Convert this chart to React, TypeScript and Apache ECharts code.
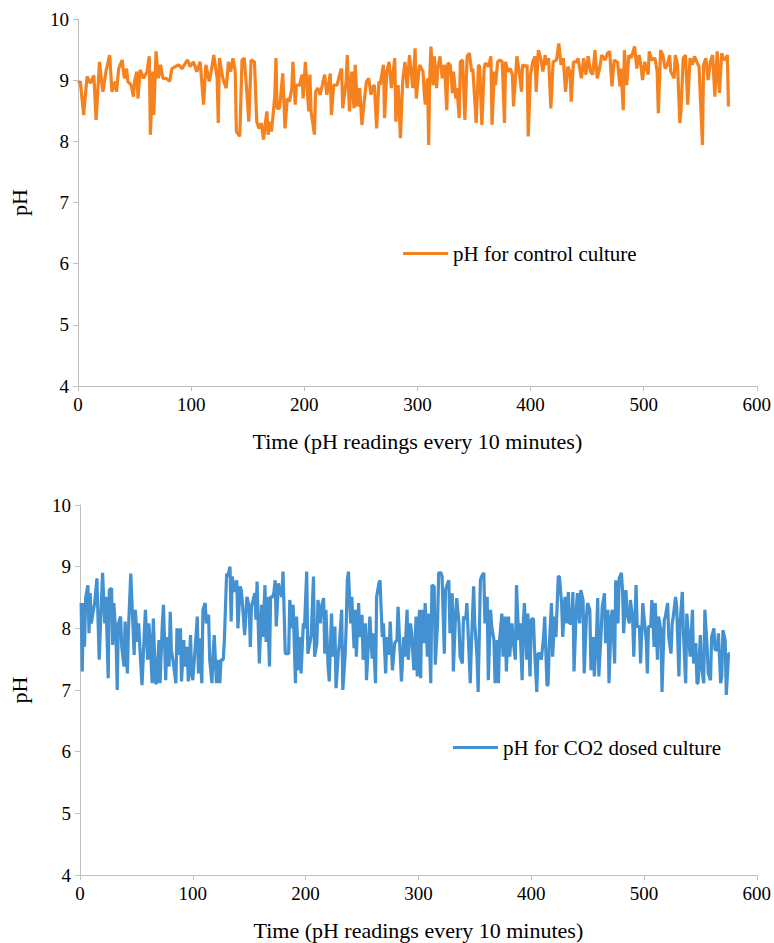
import React, { useEffect, useRef } from 'react';
import * as echarts from 'echarts';

// Control culture: time index (readings every 10 minutes) and pH
const controlTime = [0, 2, 5, 8, 11, 14, 16, 19, 21, 22, 25, 28, 30, 33, 34, 36, 39, 41, 43, 44, 47, 49, 50, 52, 53, 55, 58, 61, 63, 64, 66, 67, 69, 71, 73, 75, 78, 81, 83, 86, 89, 92, 95, 97, 99, 102, 105, 108, 111, 113, 116, 118, 120, 123, 124, 125, 128, 131, 133, 135, 137, 139, 140, 143, 145, 147, 149, 151, 153, 156, 158, 160, 162, 164, 166, 167, 168, 170, 171, 173, 174, 175, 176, 178, 179, 181, 183, 185, 187, 189, 190, 192, 193, 196, 198, 199, 201, 202, 204, 205, 206, 209, 210, 212, 214, 216, 218, 220, 223, 224, 226, 229, 232, 233, 234, 237, 238, 240, 242, 244, 245, 247, 249, 251, 253, 255, 257, 259, 260, 262, 264, 266, 267, 270, 271, 273, 275, 277, 280, 281, 283, 285, 287, 289, 291, 293, 296, 298, 299, 301, 302, 305, 306, 307, 309, 310, 311, 312, 314, 315, 317, 318, 320, 322, 324, 326, 327, 329, 331, 332, 334, 335, 337, 338, 340, 342, 344, 346, 348, 349, 352, 354, 355, 357, 359, 360, 363, 365, 366, 368, 369, 371, 373, 375, 377, 378, 380, 382, 384, 385, 388, 390, 392, 393, 396, 397, 398, 400, 402, 404, 405, 407, 409, 411, 413, 414, 416, 418, 420, 423, 425, 427, 429, 431, 433, 435, 436, 438, 441, 442, 445, 447, 449, 451, 453, 455, 457, 459, 461, 463, 466, 468, 470, 472, 474, 476, 477, 479, 480, 482, 483, 485, 487, 489, 492, 494, 496, 498, 499, 501, 504, 505, 507, 510, 512, 513, 515, 517, 519, 521, 523, 524, 527, 528, 530, 532, 533, 535, 537, 539, 541, 543, 545, 547, 549, 552, 553, 555, 557, 559, 561, 563, 565, 567, 569, 571, 573, 574, 575];
const controlPH = [8.95, 8.98, 8.43, 9.06, 8.95, 9.08, 8.35, 9.30, 8.95, 8.81, 9.17, 9.41, 8.81, 8.98, 8.81, 9.19, 9.33, 9.03, 9.19, 8.98, 8.92, 8.73, 8.98, 9.14, 8.70, 9.17, 9.03, 9.14, 9.39, 8.11, 9.14, 8.43, 9.47, 9.03, 9.25, 9.03, 9.03, 8.98, 9.19, 9.22, 9.25, 9.19, 9.28, 9.33, 9.22, 9.30, 9.14, 9.30, 8.60, 9.25, 8.98, 9.17, 9.41, 9.03, 8.30, 9.36, 9.03, 8.87, 9.30, 9.14, 9.36, 9.14, 8.16, 8.08, 9.33, 9.36, 8.87, 8.32, 9.33, 9.30, 8.32, 8.21, 8.30, 8.03, 8.35, 8.49, 8.11, 8.32, 8.16, 8.54, 8.76, 9.36, 8.54, 8.54, 8.70, 9.11, 8.21, 8.70, 8.65, 8.87, 9.30, 8.60, 8.92, 8.92, 9.09, 8.70, 9.30, 9.03, 8.49, 9.09, 8.49, 8.11, 8.81, 8.87, 8.76, 8.92, 9.09, 8.76, 9.11, 8.43, 8.92, 8.92, 9.14, 9.19, 8.54, 8.98, 9.41, 8.49, 9.14, 8.54, 9.25, 8.57, 8.87, 8.27, 8.65, 8.98, 9.03, 8.76, 8.87, 8.92, 8.21, 8.98, 8.92, 9.25, 8.38, 9.14, 9.30, 8.87, 9.36, 8.32, 8.92, 8.05, 8.98, 9.30, 8.87, 9.41, 8.87, 9.52, 8.70, 9.09, 9.25, 9.14, 8.81, 8.60, 9.03, 7.94, 9.09, 9.55, 8.92, 9.39, 8.87, 9.19, 9.39, 9.03, 9.25, 8.51, 9.28, 9.25, 8.79, 9.14, 8.70, 8.87, 8.38, 9.30, 9.33, 8.35, 9.39, 9.44, 9.14, 9.19, 8.30, 9.25, 9.22, 8.27, 9.19, 9.28, 9.22, 9.39, 8.27, 9.14, 8.92, 9.30, 9.33, 9.30, 8.30, 9.30, 9.14, 9.19, 9.09, 8.57, 9.39, 9.14, 8.81, 9.25, 9.22, 9.25, 8.08, 9.09, 9.30, 9.39, 8.81, 9.49, 9.36, 9.14, 9.41, 9.25, 9.36, 8.54, 9.30, 9.33, 9.60, 9.25, 9.36, 8.81, 9.22, 9.14, 8.65, 9.30, 9.30, 9.36, 9.03, 9.36, 9.09, 9.39, 9.14, 9.09, 9.49, 9.03, 9.19, 9.41, 9.33, 9.44, 9.47, 8.90, 9.33, 9.30, 9.30, 8.90, 9.19, 8.51, 9.49, 8.92, 9.41, 9.36, 9.55, 9.19, 9.41, 9.19, 9.00, 9.30, 9.09, 9.47, 9.33, 9.36, 9.14, 8.46, 9.49, 9.41, 9.19, 9.25, 9.41, 9.14, 9.03, 9.41, 9.25, 8.30, 8.49, 9.36, 9.41, 8.60, 9.36, 9.25, 9.39, 9.30, 9.22, 7.94, 9.25, 9.36, 9.00, 9.30, 9.41, 8.73, 9.47, 8.79, 9.44, 9.33, 9.36, 9.41, 8.57];

// CO2 dosed culture: time index and pH
const co2Time = [1, 2, 3, 4, 5, 7, 8, 9, 10, 12, 13, 15, 17, 18, 20, 22, 23, 25, 26, 28, 29, 30, 32, 33, 34, 36, 37, 39, 40, 42, 43, 45, 46, 48, 49, 51, 52, 54, 55, 57, 58, 60, 61, 62, 64, 65, 67, 68, 70, 71, 73, 74, 76, 77, 79, 80, 81, 83, 85, 86, 87, 89, 90, 92, 93, 95, 96, 98, 99, 100, 102, 104, 105, 106, 108, 109, 111, 112, 114, 115, 117, 118, 119, 121, 122, 124, 125, 127, 128, 130, 131, 133, 134, 135, 137, 139, 140, 142, 143, 144, 146, 148, 150, 151, 152, 155, 156, 157, 159, 161, 162, 164, 165, 166, 168, 169, 171, 172, 173, 174, 176, 177, 179, 180, 182, 183, 185, 186, 188, 189, 191, 192, 194, 195, 196, 198, 199, 201, 202, 204, 205, 207, 208, 210, 211, 213, 214, 216, 217, 218, 220, 221, 223, 224, 226, 227, 229, 230, 232, 233, 235, 236, 237, 238, 240, 241, 243, 244, 245, 247, 248, 250, 251, 253, 254, 256, 257, 259, 260, 262, 263, 265, 266, 268, 269, 271, 272, 274, 275, 277, 278, 279, 281, 282, 284, 285, 287, 288, 290, 291, 293, 294, 296, 298, 299, 301, 302, 303, 305, 306, 308, 309, 311, 312, 314, 315, 317, 318, 320, 321, 323, 324, 325, 327, 328, 330, 331, 333, 334, 336, 337, 339, 340, 342, 343, 345, 346, 347, 349, 350, 352, 353, 355, 356, 358, 359, 361, 362, 364, 365, 367, 368, 370, 371, 372, 374, 375, 377, 378, 380, 381, 383, 384, 386, 387, 389, 390, 392, 393, 394, 396, 397, 399, 400, 402, 403, 405, 406, 408, 409, 411, 412, 414, 415, 416, 418, 419, 421, 422, 424, 425, 427, 428, 430, 431, 433, 434, 436, 437, 438, 440, 441, 443, 444, 446, 447, 449, 450, 452, 453, 455, 456, 458, 459, 460, 462, 463, 465, 466, 468, 469, 471, 472, 474, 475, 477, 478, 480, 481, 482, 484, 485, 487, 488, 490, 491, 493, 494, 496, 497, 499, 500, 502, 503, 504, 506, 507, 509, 510, 512, 513, 515, 516, 518, 519, 521, 522, 524, 525, 526, 528, 529, 531, 532, 534, 535, 537, 538, 540, 541, 543, 544, 546, 547, 548, 550, 551, 553, 554, 556, 557, 559, 560, 562, 563, 565, 566, 568, 569, 570, 572, 573, 575, 576];
const co2PH = [8.41, 7.30, 8.41, 7.70, 8.49, 8.70, 7.92, 8.57, 8.08, 8.30, 8.41, 8.81, 7.49, 7.97, 8.90, 8.08, 8.51, 7.19, 8.62, 8.65, 7.73, 8.41, 7.81, 7.00, 8.08, 8.19, 7.70, 7.38, 8.11, 7.27, 8.00, 8.89, 8.46, 7.57, 8.30, 7.78, 8.08, 7.38, 7.08, 7.92, 8.30, 7.49, 8.08, 7.86, 7.11, 8.16, 7.11, 7.11, 7.81, 7.11, 8.08, 8.38, 7.16, 7.86, 7.38, 8.27, 7.65, 7.41, 7.11, 8.00, 7.57, 8.00, 7.14, 7.81, 7.38, 7.70, 7.14, 7.89, 7.24, 7.16, 7.65, 8.19, 7.27, 7.84, 7.11, 8.30, 8.41, 8.08, 8.22, 7.49, 7.11, 7.59, 7.89, 7.11, 7.49, 7.11, 7.49, 7.49, 7.81, 8.89, 8.84, 9.00, 8.11, 8.84, 8.59, 8.78, 8.00, 8.68, 8.62, 8.41, 7.89, 8.51, 8.35, 7.70, 8.35, 8.57, 8.14, 8.76, 7.43, 8.38, 7.86, 8.70, 7.78, 8.51, 7.38, 8.51, 8.51, 8.59, 8.78, 8.03, 8.73, 8.62, 8.51, 8.92, 7.59, 7.59, 7.59, 8.46, 8.00, 8.38, 7.11, 8.19, 7.32, 7.86, 7.27, 8.08, 8.00, 8.92, 7.59, 7.78, 7.89, 8.84, 7.54, 7.76, 8.46, 8.08, 8.35, 8.49, 7.59, 8.30, 7.38, 7.14, 8.24, 7.54, 8.03, 7.03, 7.59, 7.76, 8.30, 7.00, 7.54, 8.03, 8.78, 8.92, 8.08, 8.51, 7.68, 8.30, 7.54, 8.41, 7.86, 8.22, 7.49, 8.08, 7.16, 7.86, 8.19, 7.51, 7.92, 7.11, 8.51, 8.73, 8.78, 7.86, 8.08, 7.27, 7.86, 7.57, 8.11, 7.32, 7.54, 7.76, 7.81, 8.35, 7.54, 7.14, 7.86, 7.54, 8.30, 7.49, 8.08, 7.92, 7.32, 8.19, 7.22, 8.30, 7.19, 8.30, 7.76, 8.41, 7.54, 8.24, 7.11, 8.70, 8.68, 7.41, 8.08, 8.90, 8.90, 8.84, 7.59, 8.62, 8.68, 8.78, 7.92, 8.57, 7.30, 8.24, 8.49, 8.08, 7.54, 7.43, 8.19, 8.14, 8.41, 7.54, 7.11, 7.73, 8.68, 8.08, 7.54, 6.97, 8.78, 8.84, 8.90, 8.08, 8.51, 7.16, 8.30, 8.03, 7.81, 7.11, 7.81, 7.11, 7.81, 8.24, 7.54, 8.19, 7.30, 8.19, 7.54, 8.08, 7.81, 7.49, 8.70, 7.81, 8.08, 7.16, 8.08, 8.41, 7.49, 8.24, 7.22, 8.14, 8.16, 7.65, 6.97, 7.59, 7.59, 7.49, 7.86, 8.19, 7.08, 7.08, 7.70, 8.41, 7.54, 8.19, 7.86, 8.84, 8.84, 8.41, 7.86, 8.51, 8.08, 8.59, 8.08, 8.08, 8.59, 7.30, 8.30, 8.57, 8.08, 8.62, 8.46, 7.27, 8.19, 8.41, 8.30, 7.32, 7.86, 7.22, 7.92, 8.49, 7.22, 7.92, 8.35, 8.57, 7.76, 8.30, 7.11, 8.19, 8.30, 7.43, 8.78, 8.08, 8.81, 8.90, 8.62, 7.92, 8.62, 8.24, 8.08, 8.46, 8.14, 7.54, 8.70, 8.03, 8.03, 7.43, 8.41, 8.19, 7.81, 7.27, 8.03, 8.03, 8.46, 7.70, 8.41, 7.49, 8.19, 7.97, 6.97, 8.14, 8.19, 8.41, 7.86, 7.59, 8.08, 8.19, 8.51, 8.35, 7.22, 8.08, 8.59, 7.92, 7.11, 8.24, 7.76, 7.54, 8.30, 7.43, 7.76, 7.11, 7.11, 7.89, 7.38, 7.11, 8.30, 7.70, 7.27, 7.16, 7.86, 8.00, 7.65, 7.65, 7.92, 7.11, 7.22, 7.97, 7.81, 6.92, 7.59, 7.59];

// Axis ticks
const xMin = 0;
const xMax = 600;
const xStep = 100;
const yMin = 4;
const yMax = 10;
const yStep = 1;

const controlName = 'pH for control culture';
const co2Name = 'pH for CO2 dosed culture';
const xTitle = 'Time (pH readings every 10 minutes)';
const yTitle = 'pH';

const FONT = 'Liberation Serif';
const AXIS_GREY = '#BFBFBF';
const ORANGE = '#F5821F';
const BLUE = '#4391D0';

function pairs(xs: number[], ys: number[]) {
  return xs.map((x, i) => [x, ys[i]]);
}

function xAxisFor(gridIndex: number) {
  return {
    gridIndex,
    type: 'value',
    min: xMin,
    max: xMax,
    interval: xStep,
    axisLine: { show: true, onZero: false, lineStyle: { color: AXIS_GREY, width: 1 } },
    axisTick: { show: true, inside: false, length: 5, lineStyle: { color: AXIS_GREY } },
    splitLine: { show: false },
    axisLabel: { color: '#000', fontSize: 19, fontFamily: FONT, margin: 9 },
    name: xTitle,
    nameLocation: 'middle',
    nameGap: 44,
    nameTextStyle: { color: '#000', fontSize: 22, fontFamily: FONT },
  };
}

function yAxisFor(gridIndex: number, gap: number) {
  return {
    gridIndex,
    type: 'value',
    min: yMin,
    max: yMax,
    interval: yStep,
    axisLine: { show: true, onZero: false, lineStyle: { color: AXIS_GREY, width: 1 } },
    axisTick: { show: true, inside: false, length: 5, lineStyle: { color: AXIS_GREY } },
    splitLine: { show: false },
    axisLabel: { color: '#000', fontSize: 19, fontFamily: FONT, margin: 9 },
    name: yTitle,
    nameLocation: 'middle',
    nameRotate: 90,
    nameGap: gap,
    nameTextStyle: { color: '#000', fontSize: 22, fontFamily: FONT },
  };
}

export default function App() {
  const ref = useRef<HTMLDivElement>(null);

  useEffect(() => {
    document.body.style.margin = '0';
    if (!ref.current) return;
    const chart = echarts.init(ref.current, undefined, { renderer: 'svg' });
    chart.setOption({
      animation: false,
      backgroundColor: '#fff',
      textStyle: { fontFamily: FONT },
      grid: [
        { left: 78, top: 19, width: 679, height: 367, containLabel: false },
        { left: 75, top: 505, width: 684, height: 370, containLabel: false },
      ],
      xAxis: [xAxisFor(0), xAxisFor(1)],
      yAxis: [yAxisFor(0, 48), yAxisFor(1, 50)],
      legend: [
        {
          data: [controlName],
          left: 403,
          top: 243,
          padding: 0,
          icon: 'rect',
          itemWidth: 45,
          itemHeight: 3,
          itemGap: 5,
          textStyle: { color: '#000', fontSize: 21, fontFamily: FONT },
        },
        {
          data: [co2Name],
          left: 453,
          top: 737,
          padding: 0,
          icon: 'rect',
          itemWidth: 45,
          itemHeight: 3,
          itemGap: 5,
          textStyle: { color: '#000', fontSize: 21, fontFamily: FONT },
        },
      ],
      series: [
        {
          name: controlName,
          type: 'line',
          xAxisIndex: 0,
          yAxisIndex: 0,
          data: pairs(controlTime, controlPH),
          showSymbol: false,
          symbol: 'none',
          lineStyle: { color: ORANGE, width: 3.2 },
          itemStyle: { color: ORANGE },
        },
        {
          name: co2Name,
          type: 'line',
          xAxisIndex: 1,
          yAxisIndex: 1,
          data: pairs(co2Time, co2PH),
          showSymbol: false,
          symbol: 'none',
          lineStyle: { color: BLUE, width: 3.2 },
          itemStyle: { color: BLUE },
        },
      ],
    });
    return () => chart.dispose();
  }, []);

  return <div ref={ref} style={{ width: 774, height: 943 }} />;
}
